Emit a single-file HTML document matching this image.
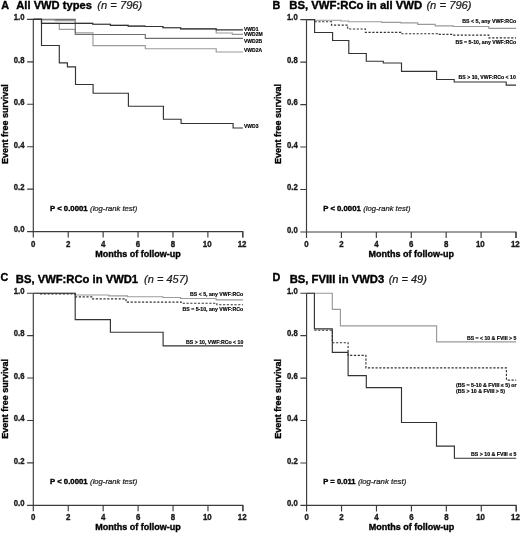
<!DOCTYPE html>
<html><head><meta charset="utf-8"><title>Figure</title>
<style>
html,body{margin:0;padding:0;background:#fff;width:520px;height:533px;overflow:hidden;}
body{position:relative;font-family:"Liberation Sans", sans-serif;}
</style></head><body>
<svg width="520" height="533" viewBox="0 0 520 533" style="position:absolute;left:0;top:0;will-change:transform;filter:blur(0.3px)" font-family='"Liberation Sans", sans-serif'>
<rect width="520" height="533" fill="#fff"/>
<path d="M33.30,19.10 V231.60 H242.80 V237.60" fill="none" stroke="#3c3c3c" stroke-width="1.15"/>
<path d="M27.10,231.60 H33.30 M27.10,189.16 H33.30 M27.10,146.72 H33.30 M27.10,104.28 H33.30 M27.10,61.84 H33.30 M27.10,19.40 H33.30 M33.30,231.60 V237.60 M68.22,231.60 V237.60 M103.13,231.60 V237.60 M138.05,231.60 V237.60 M172.97,231.60 V237.60 M207.88,231.60 V237.60 M242.80,231.60 V237.60" fill="none" stroke="#3c3c3c" stroke-width="1.15"/>
<text x="24.50" y="232.40" font-size="8.2" font-weight="bold" font-style="normal" text-anchor="end" fill="#1a1a1a" stroke="#1a1a1a" stroke-width="0.35" textLength="10.70" lengthAdjust="spacingAndGlyphs">0.0</text>
<text x="24.50" y="189.96" font-size="8.2" font-weight="bold" font-style="normal" text-anchor="end" fill="#1a1a1a" stroke="#1a1a1a" stroke-width="0.35" textLength="10.70" lengthAdjust="spacingAndGlyphs">0.2</text>
<text x="24.50" y="147.52" font-size="8.2" font-weight="bold" font-style="normal" text-anchor="end" fill="#1a1a1a" stroke="#1a1a1a" stroke-width="0.35" textLength="10.70" lengthAdjust="spacingAndGlyphs">0.4</text>
<text x="24.50" y="105.08" font-size="8.2" font-weight="bold" font-style="normal" text-anchor="end" fill="#1a1a1a" stroke="#1a1a1a" stroke-width="0.35" textLength="10.70" lengthAdjust="spacingAndGlyphs">0.6</text>
<text x="24.50" y="62.64" font-size="8.2" font-weight="bold" font-style="normal" text-anchor="end" fill="#1a1a1a" stroke="#1a1a1a" stroke-width="0.35" textLength="10.70" lengthAdjust="spacingAndGlyphs">0.8</text>
<text x="24.50" y="20.20" font-size="8.2" font-weight="bold" font-style="normal" text-anchor="end" fill="#1a1a1a" stroke="#1a1a1a" stroke-width="0.35" textLength="10.70" lengthAdjust="spacingAndGlyphs">1.0</text>
<text x="33.30" y="246.70" font-size="8.4" font-weight="bold" font-style="normal" text-anchor="middle" fill="#1a1a1a" stroke="#1a1a1a" stroke-width="0.35" textLength="4.39" lengthAdjust="spacingAndGlyphs">0</text>
<text x="68.22" y="246.70" font-size="8.4" font-weight="bold" font-style="normal" text-anchor="middle" fill="#1a1a1a" stroke="#1a1a1a" stroke-width="0.35" textLength="4.39" lengthAdjust="spacingAndGlyphs">2</text>
<text x="103.13" y="246.70" font-size="8.4" font-weight="bold" font-style="normal" text-anchor="middle" fill="#1a1a1a" stroke="#1a1a1a" stroke-width="0.35" textLength="4.39" lengthAdjust="spacingAndGlyphs">4</text>
<text x="138.05" y="246.70" font-size="8.4" font-weight="bold" font-style="normal" text-anchor="middle" fill="#1a1a1a" stroke="#1a1a1a" stroke-width="0.35" textLength="4.39" lengthAdjust="spacingAndGlyphs">6</text>
<text x="172.97" y="246.70" font-size="8.4" font-weight="bold" font-style="normal" text-anchor="middle" fill="#1a1a1a" stroke="#1a1a1a" stroke-width="0.35" textLength="4.39" lengthAdjust="spacingAndGlyphs">8</text>
<text x="207.18" y="246.70" font-size="8.4" font-weight="bold" font-style="normal" text-anchor="middle" fill="#1a1a1a" stroke="#1a1a1a" stroke-width="0.35" textLength="8.78" lengthAdjust="spacingAndGlyphs">10</text>
<text x="242.10" y="246.70" font-size="8.4" font-weight="bold" font-style="normal" text-anchor="middle" fill="#1a1a1a" stroke="#1a1a1a" stroke-width="0.35" textLength="8.78" lengthAdjust="spacingAndGlyphs">12</text>
<text x="138.05" y="257.00" font-size="9.0" font-weight="bold" font-style="normal" text-anchor="middle" fill="#000" stroke="#000" stroke-width="0.35">Months of follow-up</text>
<text transform="translate(8.10,124.10) rotate(-90)" x="0" y="0" font-size="9.3" font-weight="bold" text-anchor="middle" fill="#000" stroke="#000" stroke-width="0.35" textLength="79.8" lengthAdjust="spacingAndGlyphs">Event free survival</text>
<path d="M306.50,19.30 V232.00 H516.00 V238.00" fill="none" stroke="#3c3c3c" stroke-width="1.15"/>
<path d="M300.30,232.00 H306.50 M300.30,189.52 H306.50 M300.30,147.04 H306.50 M300.30,104.56 H306.50 M300.30,62.08 H306.50 M300.30,19.60 H306.50 M306.50,232.00 V238.00 M341.42,232.00 V238.00 M376.33,232.00 V238.00 M411.25,232.00 V238.00 M446.17,232.00 V238.00 M481.08,232.00 V238.00 M516.00,232.00 V238.00" fill="none" stroke="#3c3c3c" stroke-width="1.15"/>
<text x="297.70" y="232.80" font-size="8.2" font-weight="bold" font-style="normal" text-anchor="end" fill="#1a1a1a" stroke="#1a1a1a" stroke-width="0.35" textLength="10.70" lengthAdjust="spacingAndGlyphs">0.0</text>
<text x="297.70" y="190.32" font-size="8.2" font-weight="bold" font-style="normal" text-anchor="end" fill="#1a1a1a" stroke="#1a1a1a" stroke-width="0.35" textLength="10.70" lengthAdjust="spacingAndGlyphs">0.2</text>
<text x="297.70" y="147.84" font-size="8.2" font-weight="bold" font-style="normal" text-anchor="end" fill="#1a1a1a" stroke="#1a1a1a" stroke-width="0.35" textLength="10.70" lengthAdjust="spacingAndGlyphs">0.4</text>
<text x="297.70" y="105.36" font-size="8.2" font-weight="bold" font-style="normal" text-anchor="end" fill="#1a1a1a" stroke="#1a1a1a" stroke-width="0.35" textLength="10.70" lengthAdjust="spacingAndGlyphs">0.6</text>
<text x="297.70" y="62.88" font-size="8.2" font-weight="bold" font-style="normal" text-anchor="end" fill="#1a1a1a" stroke="#1a1a1a" stroke-width="0.35" textLength="10.70" lengthAdjust="spacingAndGlyphs">0.8</text>
<text x="297.70" y="20.40" font-size="8.2" font-weight="bold" font-style="normal" text-anchor="end" fill="#1a1a1a" stroke="#1a1a1a" stroke-width="0.35" textLength="10.70" lengthAdjust="spacingAndGlyphs">1.0</text>
<text x="306.50" y="247.10" font-size="8.4" font-weight="bold" font-style="normal" text-anchor="middle" fill="#1a1a1a" stroke="#1a1a1a" stroke-width="0.35" textLength="4.39" lengthAdjust="spacingAndGlyphs">0</text>
<text x="341.42" y="247.10" font-size="8.4" font-weight="bold" font-style="normal" text-anchor="middle" fill="#1a1a1a" stroke="#1a1a1a" stroke-width="0.35" textLength="4.39" lengthAdjust="spacingAndGlyphs">2</text>
<text x="376.33" y="247.10" font-size="8.4" font-weight="bold" font-style="normal" text-anchor="middle" fill="#1a1a1a" stroke="#1a1a1a" stroke-width="0.35" textLength="4.39" lengthAdjust="spacingAndGlyphs">4</text>
<text x="411.25" y="247.10" font-size="8.4" font-weight="bold" font-style="normal" text-anchor="middle" fill="#1a1a1a" stroke="#1a1a1a" stroke-width="0.35" textLength="4.39" lengthAdjust="spacingAndGlyphs">6</text>
<text x="446.17" y="247.10" font-size="8.4" font-weight="bold" font-style="normal" text-anchor="middle" fill="#1a1a1a" stroke="#1a1a1a" stroke-width="0.35" textLength="4.39" lengthAdjust="spacingAndGlyphs">8</text>
<text x="480.38" y="247.10" font-size="8.4" font-weight="bold" font-style="normal" text-anchor="middle" fill="#1a1a1a" stroke="#1a1a1a" stroke-width="0.35" textLength="8.78" lengthAdjust="spacingAndGlyphs">10</text>
<text x="515.30" y="247.10" font-size="8.4" font-weight="bold" font-style="normal" text-anchor="middle" fill="#1a1a1a" stroke="#1a1a1a" stroke-width="0.35" textLength="8.78" lengthAdjust="spacingAndGlyphs">12</text>
<text x="411.25" y="257.40" font-size="9.0" font-weight="bold" font-style="normal" text-anchor="middle" fill="#000" stroke="#000" stroke-width="0.35">Months of follow-up</text>
<text transform="translate(280.50,124.00) rotate(-90)" x="0" y="0" font-size="9.3" font-weight="bold" text-anchor="middle" fill="#000" stroke="#000" stroke-width="0.35" textLength="79.8" lengthAdjust="spacingAndGlyphs">Event free survival</text>
<path d="M33.30,292.90 V505.30 H242.90 V511.30" fill="none" stroke="#3c3c3c" stroke-width="1.15"/>
<path d="M27.10,505.30 H33.30 M27.10,462.88 H33.30 M27.10,420.46 H33.30 M27.10,378.04 H33.30 M27.10,335.62 H33.30 M27.10,293.20 H33.30 M33.30,505.30 V511.30 M68.23,505.30 V511.30 M103.17,505.30 V511.30 M138.10,505.30 V511.30 M173.03,505.30 V511.30 M207.97,505.30 V511.30 M242.90,505.30 V511.30" fill="none" stroke="#3c3c3c" stroke-width="1.15"/>
<text x="24.50" y="506.10" font-size="8.2" font-weight="bold" font-style="normal" text-anchor="end" fill="#1a1a1a" stroke="#1a1a1a" stroke-width="0.35" textLength="10.70" lengthAdjust="spacingAndGlyphs">0.0</text>
<text x="24.50" y="463.68" font-size="8.2" font-weight="bold" font-style="normal" text-anchor="end" fill="#1a1a1a" stroke="#1a1a1a" stroke-width="0.35" textLength="10.70" lengthAdjust="spacingAndGlyphs">0.2</text>
<text x="24.50" y="421.26" font-size="8.2" font-weight="bold" font-style="normal" text-anchor="end" fill="#1a1a1a" stroke="#1a1a1a" stroke-width="0.35" textLength="10.70" lengthAdjust="spacingAndGlyphs">0.4</text>
<text x="24.50" y="378.84" font-size="8.2" font-weight="bold" font-style="normal" text-anchor="end" fill="#1a1a1a" stroke="#1a1a1a" stroke-width="0.35" textLength="10.70" lengthAdjust="spacingAndGlyphs">0.6</text>
<text x="24.50" y="336.42" font-size="8.2" font-weight="bold" font-style="normal" text-anchor="end" fill="#1a1a1a" stroke="#1a1a1a" stroke-width="0.35" textLength="10.70" lengthAdjust="spacingAndGlyphs">0.8</text>
<text x="24.50" y="294.00" font-size="8.2" font-weight="bold" font-style="normal" text-anchor="end" fill="#1a1a1a" stroke="#1a1a1a" stroke-width="0.35" textLength="10.70" lengthAdjust="spacingAndGlyphs">1.0</text>
<text x="33.30" y="520.00" font-size="8.4" font-weight="bold" font-style="normal" text-anchor="middle" fill="#1a1a1a" stroke="#1a1a1a" stroke-width="0.35" textLength="4.39" lengthAdjust="spacingAndGlyphs">0</text>
<text x="68.23" y="520.00" font-size="8.4" font-weight="bold" font-style="normal" text-anchor="middle" fill="#1a1a1a" stroke="#1a1a1a" stroke-width="0.35" textLength="4.39" lengthAdjust="spacingAndGlyphs">2</text>
<text x="103.17" y="520.00" font-size="8.4" font-weight="bold" font-style="normal" text-anchor="middle" fill="#1a1a1a" stroke="#1a1a1a" stroke-width="0.35" textLength="4.39" lengthAdjust="spacingAndGlyphs">4</text>
<text x="138.10" y="520.00" font-size="8.4" font-weight="bold" font-style="normal" text-anchor="middle" fill="#1a1a1a" stroke="#1a1a1a" stroke-width="0.35" textLength="4.39" lengthAdjust="spacingAndGlyphs">6</text>
<text x="173.03" y="520.00" font-size="8.4" font-weight="bold" font-style="normal" text-anchor="middle" fill="#1a1a1a" stroke="#1a1a1a" stroke-width="0.35" textLength="4.39" lengthAdjust="spacingAndGlyphs">8</text>
<text x="207.27" y="520.00" font-size="8.4" font-weight="bold" font-style="normal" text-anchor="middle" fill="#1a1a1a" stroke="#1a1a1a" stroke-width="0.35" textLength="8.78" lengthAdjust="spacingAndGlyphs">10</text>
<text x="242.20" y="520.00" font-size="8.4" font-weight="bold" font-style="normal" text-anchor="middle" fill="#1a1a1a" stroke="#1a1a1a" stroke-width="0.35" textLength="8.78" lengthAdjust="spacingAndGlyphs">12</text>
<text x="138.10" y="530.20" font-size="9.0" font-weight="bold" font-style="normal" text-anchor="middle" fill="#000" stroke="#000" stroke-width="0.35">Months of follow-up</text>
<text transform="translate(8.10,398.85) rotate(-90)" x="0" y="0" font-size="9.3" font-weight="bold" text-anchor="middle" fill="#000" stroke="#000" stroke-width="0.35" textLength="79.8" lengthAdjust="spacingAndGlyphs">Event free survival</text>
<path d="M306.60,292.90 V505.40 H516.20 V511.40" fill="none" stroke="#3c3c3c" stroke-width="1.15"/>
<path d="M300.40,505.40 H306.60 M300.40,462.96 H306.60 M300.40,420.52 H306.60 M300.40,378.08 H306.60 M300.40,335.64 H306.60 M300.40,293.20 H306.60 M306.60,505.40 V511.40 M341.53,505.40 V511.40 M376.47,505.40 V511.40 M411.40,505.40 V511.40 M446.33,505.40 V511.40 M481.27,505.40 V511.40 M516.20,505.40 V511.40" fill="none" stroke="#3c3c3c" stroke-width="1.15"/>
<text x="297.80" y="506.20" font-size="8.2" font-weight="bold" font-style="normal" text-anchor="end" fill="#1a1a1a" stroke="#1a1a1a" stroke-width="0.35" textLength="10.70" lengthAdjust="spacingAndGlyphs">0.0</text>
<text x="297.80" y="463.76" font-size="8.2" font-weight="bold" font-style="normal" text-anchor="end" fill="#1a1a1a" stroke="#1a1a1a" stroke-width="0.35" textLength="10.70" lengthAdjust="spacingAndGlyphs">0.2</text>
<text x="297.80" y="421.32" font-size="8.2" font-weight="bold" font-style="normal" text-anchor="end" fill="#1a1a1a" stroke="#1a1a1a" stroke-width="0.35" textLength="10.70" lengthAdjust="spacingAndGlyphs">0.4</text>
<text x="297.80" y="378.88" font-size="8.2" font-weight="bold" font-style="normal" text-anchor="end" fill="#1a1a1a" stroke="#1a1a1a" stroke-width="0.35" textLength="10.70" lengthAdjust="spacingAndGlyphs">0.6</text>
<text x="297.80" y="336.44" font-size="8.2" font-weight="bold" font-style="normal" text-anchor="end" fill="#1a1a1a" stroke="#1a1a1a" stroke-width="0.35" textLength="10.70" lengthAdjust="spacingAndGlyphs">0.8</text>
<text x="297.80" y="294.00" font-size="8.2" font-weight="bold" font-style="normal" text-anchor="end" fill="#1a1a1a" stroke="#1a1a1a" stroke-width="0.35" textLength="10.70" lengthAdjust="spacingAndGlyphs">1.0</text>
<text x="306.60" y="520.10" font-size="8.4" font-weight="bold" font-style="normal" text-anchor="middle" fill="#1a1a1a" stroke="#1a1a1a" stroke-width="0.35" textLength="4.39" lengthAdjust="spacingAndGlyphs">0</text>
<text x="341.53" y="520.10" font-size="8.4" font-weight="bold" font-style="normal" text-anchor="middle" fill="#1a1a1a" stroke="#1a1a1a" stroke-width="0.35" textLength="4.39" lengthAdjust="spacingAndGlyphs">2</text>
<text x="376.47" y="520.10" font-size="8.4" font-weight="bold" font-style="normal" text-anchor="middle" fill="#1a1a1a" stroke="#1a1a1a" stroke-width="0.35" textLength="4.39" lengthAdjust="spacingAndGlyphs">4</text>
<text x="411.40" y="520.10" font-size="8.4" font-weight="bold" font-style="normal" text-anchor="middle" fill="#1a1a1a" stroke="#1a1a1a" stroke-width="0.35" textLength="4.39" lengthAdjust="spacingAndGlyphs">6</text>
<text x="446.33" y="520.10" font-size="8.4" font-weight="bold" font-style="normal" text-anchor="middle" fill="#1a1a1a" stroke="#1a1a1a" stroke-width="0.35" textLength="4.39" lengthAdjust="spacingAndGlyphs">8</text>
<text x="480.57" y="520.10" font-size="8.4" font-weight="bold" font-style="normal" text-anchor="middle" fill="#1a1a1a" stroke="#1a1a1a" stroke-width="0.35" textLength="8.78" lengthAdjust="spacingAndGlyphs">10</text>
<text x="515.50" y="520.10" font-size="8.4" font-weight="bold" font-style="normal" text-anchor="middle" fill="#1a1a1a" stroke="#1a1a1a" stroke-width="0.35" textLength="8.78" lengthAdjust="spacingAndGlyphs">12</text>
<text x="411.40" y="530.30" font-size="9.0" font-weight="bold" font-style="normal" text-anchor="middle" fill="#000" stroke="#000" stroke-width="0.35">Months of follow-up</text>
<text transform="translate(280.80,398.90) rotate(-90)" x="0" y="0" font-size="9.3" font-weight="bold" text-anchor="middle" fill="#000" stroke="#000" stroke-width="0.35" textLength="79.8" lengthAdjust="spacingAndGlyphs">Event free survival</text>
<text x="1.20" y="8.80" font-size="10.8" font-weight="bold" font-style="normal" text-anchor="start" fill="#000" stroke="#000" stroke-width="0.35">A</text>
<text x="16.30" y="8.80" font-size="10.3" font-weight="bold" font-style="normal" text-anchor="start" fill="#000" stroke="#000" stroke-width="0.35" textLength="75.60" lengthAdjust="spacingAndGlyphs">All VWD types</text>
<text x="97.30" y="8.50" font-size="10.6" font-weight="normal" font-style="italic" text-anchor="start" fill="#1c1c1c" stroke="#1c1c1c" stroke-width="0.22" textLength="45.00" lengthAdjust="spacingAndGlyphs">(n = 796)</text>
<text x="272.60" y="9.20" font-size="10.8" font-weight="bold" font-style="normal" text-anchor="start" fill="#000" stroke="#000" stroke-width="0.35">B</text>
<text x="289.20" y="9.20" font-size="10.3" font-weight="bold" font-style="normal" text-anchor="start" fill="#000" stroke="#000" stroke-width="0.35" textLength="133.00" lengthAdjust="spacingAndGlyphs">BS, VWF:RCo in all VWD</text>
<text x="426.40" y="8.90" font-size="10.6" font-weight="normal" font-style="italic" text-anchor="start" fill="#1c1c1c" stroke="#1c1c1c" stroke-width="0.22" textLength="45.20" lengthAdjust="spacingAndGlyphs">(n = 796)</text>
<text x="0.60" y="281.20" font-size="10.8" font-weight="bold" font-style="normal" text-anchor="start" fill="#000" stroke="#000" stroke-width="0.35">C</text>
<text x="15.80" y="282.80" font-size="10.3" font-weight="bold" font-style="normal" text-anchor="start" fill="#000" stroke="#000" stroke-width="0.35" textLength="122.30" lengthAdjust="spacingAndGlyphs">BS, VWF:RCo in VWD1</text>
<text x="144.10" y="282.50" font-size="10.6" font-weight="normal" font-style="italic" text-anchor="start" fill="#1c1c1c" stroke="#1c1c1c" stroke-width="0.22" textLength="44.40" lengthAdjust="spacingAndGlyphs">(n = 457)</text>
<text x="272.40" y="280.80" font-size="10.8" font-weight="bold" font-style="normal" text-anchor="start" fill="#000" stroke="#000" stroke-width="0.35">D</text>
<text x="289.70" y="282.80" font-size="10.3" font-weight="bold" font-style="normal" text-anchor="start" fill="#000" stroke="#000" stroke-width="0.35" textLength="94.50" lengthAdjust="spacingAndGlyphs">BS, FVIII in VWD3</text>
<text x="388.70" y="282.50" font-size="10.6" font-weight="normal" font-style="italic" text-anchor="start" fill="#1c1c1c" stroke="#1c1c1c" stroke-width="0.22" textLength="38.20" lengthAdjust="spacingAndGlyphs">(n = 49)</text>
<text x="50.00" y="210.60" font-size="7.6" font-weight="bold" font-style="normal" text-anchor="start" fill="#000" stroke="#000" stroke-width="0.35" textLength="37.60" lengthAdjust="spacingAndGlyphs">P &lt; 0.0001</text>
<text x="90.10" y="210.60" font-size="7.6" font-weight="normal" font-style="italic" text-anchor="start" fill="#222" stroke="#222" stroke-width="0.22" textLength="47.20" lengthAdjust="spacingAndGlyphs">(log-rank test)</text>
<text x="323.20" y="211.00" font-size="7.6" font-weight="bold" font-style="normal" text-anchor="start" fill="#000" stroke="#000" stroke-width="0.35" textLength="37.60" lengthAdjust="spacingAndGlyphs">P &lt; 0.0001</text>
<text x="363.30" y="211.00" font-size="7.6" font-weight="normal" font-style="italic" text-anchor="start" fill="#222" stroke="#222" stroke-width="0.22" textLength="47.20" lengthAdjust="spacingAndGlyphs">(log-rank test)</text>
<text x="50.00" y="484.30" font-size="7.6" font-weight="bold" font-style="normal" text-anchor="start" fill="#000" stroke="#000" stroke-width="0.35" textLength="37.60" lengthAdjust="spacingAndGlyphs">P &lt; 0.0001</text>
<text x="90.10" y="484.30" font-size="7.6" font-weight="normal" font-style="italic" text-anchor="start" fill="#222" stroke="#222" stroke-width="0.22" textLength="47.20" lengthAdjust="spacingAndGlyphs">(log-rank test)</text>
<text x="323.30" y="484.40" font-size="7.6" font-weight="bold" font-style="normal" text-anchor="start" fill="#000" stroke="#000" stroke-width="0.35" textLength="32.20" lengthAdjust="spacingAndGlyphs">P = 0.011</text>
<text x="357.90" y="484.40" font-size="7.6" font-weight="normal" font-style="italic" text-anchor="start" fill="#222" stroke="#222" stroke-width="0.22" textLength="48.40" lengthAdjust="spacingAndGlyphs">(log-rank test)</text>
<path d="M33.3,19.4 H41.5 V23.3 H59.3 V29.4 H75.3 V32.8 H93.0 V45.6 H145.3 V48.7 H216.2 V52.0 H242.9" fill="none" stroke="#9a9a9a" stroke-width="1.15"/>
<path d="M33.3,19.4 H75.3 V34.5 H145.3 V38.4 H242.9" fill="none" stroke="#6e6e6e" stroke-width="1.15"/>
<path d="M33.3,19.4 H41.5 V20.0 H55 V20.6 H75.3 V23.4 H92.8 V24.2 H110.4 V25.3 H128.2 V26.1 H145.0 V26.5 H163.0 V27.7 H180.6 V28.8 H216.2 V33.0 H232.3 V34.3 H242.9" fill="none" stroke="#9a9a9a" stroke-width="1.15"/>
<path d="M33.3,19.4 H41.5 V23.4 H92.8 V24.2 H110.4 V25.3 H128.2 V26.1 H145.0 V26.5 H163.0 V27.7 H180.6 V28.8 H216.2 V29.9 H242.9" fill="none" stroke="#333" stroke-width="1.15"/>
<path d="M33.3,19.4 H41.5 V45.5 H59.3 V62.8 H67.4 V66.9 H75.5 V84.5 H93.1 V93.2 H128.4 V106.2 H163.4 V119.2 H181.1 V123.5 H233.1 V128.0 H242.9" fill="none" stroke="#333" stroke-width="1.15"/>
<text x="244.00" y="30.50" font-size="5.0" font-weight="bold" font-style="normal" text-anchor="start" fill="#000" stroke="#000" stroke-width="0.15">VWD1</text>
<text x="244.00" y="36.40" font-size="5.0" font-weight="bold" font-style="normal" text-anchor="start" fill="#000" stroke="#000" stroke-width="0.15">VWD2M</text>
<text x="244.00" y="42.60" font-size="5.0" font-weight="bold" font-style="normal" text-anchor="start" fill="#000" stroke="#000" stroke-width="0.15">VWD2B</text>
<text x="244.00" y="52.20" font-size="5.0" font-weight="bold" font-style="normal" text-anchor="start" fill="#000" stroke="#000" stroke-width="0.15">VWD2A</text>
<text x="244.00" y="128.30" font-size="5.0" font-weight="bold" font-style="normal" text-anchor="start" fill="#000" stroke="#000" stroke-width="0.15">VWD3</text>
<path d="M306.5,19.6 H314.6 V20.2 H340.8 V21.0 H348.5 V21.7 H381.5 V22.4 H400.8 V22.9 H417.7 V24.3 H435.2 V25.8 H453.4 V26.5 H488.8 V28.4 H516.0" fill="none" stroke="#9a9a9a" stroke-width="1.15"/>
<path d="M314.6,21.7 H331.5 V25.1 H347.7 V29.0 H365.4 V32.4 H400.8 V33.7 H437.7 V34.4 H451.6 V35.1 H488.8 V37.9 H516.0" fill="none" stroke="#333" stroke-width="1.15" stroke-dasharray="2.2,1.6"/>
<path d="M306.5,19.6 H314.6 V32.5 H332.6 V40.5 H348.8 V53.5 H366.3 V61.2 H383.3 V63.0 H401.5 V71.4 H436.6 V79.5 H454.2 V82.0 H506.2 V85.1 H516.0" fill="none" stroke="#333" stroke-width="1.15"/>
<text x="516.20" y="23.10" font-size="4.9" font-weight="bold" font-style="normal" text-anchor="end" fill="#000" stroke="#000" stroke-width="0.15" textLength="54.00" lengthAdjust="spacingAndGlyphs">BS &lt; 5, any VWF:RCo</text>
<text x="516.20" y="44.30" font-size="4.9" font-weight="bold" font-style="normal" text-anchor="end" fill="#000" stroke="#000" stroke-width="0.15" textLength="60.80" lengthAdjust="spacingAndGlyphs">BS = 5-10, any VWF:RCo</text>
<text x="515.80" y="79.00" font-size="4.9" font-weight="bold" font-style="normal" text-anchor="end" fill="#000" stroke="#000" stroke-width="0.15" textLength="57.20" lengthAdjust="spacingAndGlyphs">BS &gt; 10, VWF:RCo &lt; 10</text>
<path d="M33.3,293.2 H75.2 V295.0 H108.8 V295.8 H127.4 V296.7 H163.0 V297.5 H180.6 V298.5 H216.2 V299.9 H243.0" fill="none" stroke="#9a9a9a" stroke-width="1.15"/>
<path d="M40,293.9 H75.2 V296.9 H92.5 V298.9 H126.0 V302.1 H181.2 V303.2 H216.9 V304.7 H243.0" fill="none" stroke="#333" stroke-width="1.15" stroke-dasharray="2.2,1.6"/>
<path d="M33.3,293.2 H75.2 V319.6 H110.4 V332.2 H163.1 V345.8 H243.0" fill="none" stroke="#333" stroke-width="1.15"/>
<text x="243.30" y="296.20" font-size="4.9" font-weight="bold" font-style="normal" text-anchor="end" fill="#000" stroke="#000" stroke-width="0.15" textLength="53.30" lengthAdjust="spacingAndGlyphs">BS &lt; 5, any VWF:RCo</text>
<text x="243.30" y="310.50" font-size="4.9" font-weight="bold" font-style="normal" text-anchor="end" fill="#000" stroke="#000" stroke-width="0.15" textLength="60.80" lengthAdjust="spacingAndGlyphs">BS = 5-10, any VWF:RCo</text>
<text x="243.30" y="343.50" font-size="4.9" font-weight="bold" font-style="normal" text-anchor="end" fill="#000" stroke="#000" stroke-width="0.15" textLength="57.20" lengthAdjust="spacingAndGlyphs">BS &gt; 10, VWF:RCo &lt; 10</text>
<path d="M306.6,293.2 H332.3 V309.4 H340.4 V325.8 H436.6 V341.9 H516.2" fill="none" stroke="#9a9a9a" stroke-width="1.15"/>
<path d="M314.4,330.2 H332.3 V342.7 H348.1 V355.3 H365.9 V367.9 H506.4 V380.1 H516.2" fill="none" stroke="#333" stroke-width="1.15" stroke-dasharray="2.2,1.6"/>
<path d="M306.6,293.2 H314.4 V328.8 H332.3 V352.3 H348.1 V375.6 H366.3 V387.6 H401.5 V422.5 H436.5 V446.1 H454.4 V458.2 H516.2" fill="none" stroke="#333" stroke-width="1.15"/>
<text x="516.40" y="340.00" font-size="4.9" font-weight="bold" font-style="normal" text-anchor="end" fill="#000" stroke="#000" stroke-width="0.15" textLength="49.40" lengthAdjust="spacingAndGlyphs">BS = &lt; 10 &amp; FVIII &gt; 5</text>
<text x="456.00" y="386.60" font-size="4.9" font-weight="bold" font-style="normal" text-anchor="start" fill="#000" stroke="#000" stroke-width="0.15" textLength="60.60" lengthAdjust="spacingAndGlyphs">(BS = 5-10 &amp; FVIII ≤ 5) or</text>
<text x="456.00" y="392.60" font-size="4.9" font-weight="bold" font-style="normal" text-anchor="start" fill="#000" stroke="#000" stroke-width="0.15" textLength="49.00" lengthAdjust="spacingAndGlyphs">(BS &gt; 10 &amp; FVIII &gt; 5)</text>
<text x="516.40" y="456.40" font-size="4.9" font-weight="bold" font-style="normal" text-anchor="end" fill="#000" stroke="#000" stroke-width="0.15" textLength="45.30" lengthAdjust="spacingAndGlyphs">BS &gt; 10 &amp; FVIII ≤ 5</text>
</svg>
</body></html>
